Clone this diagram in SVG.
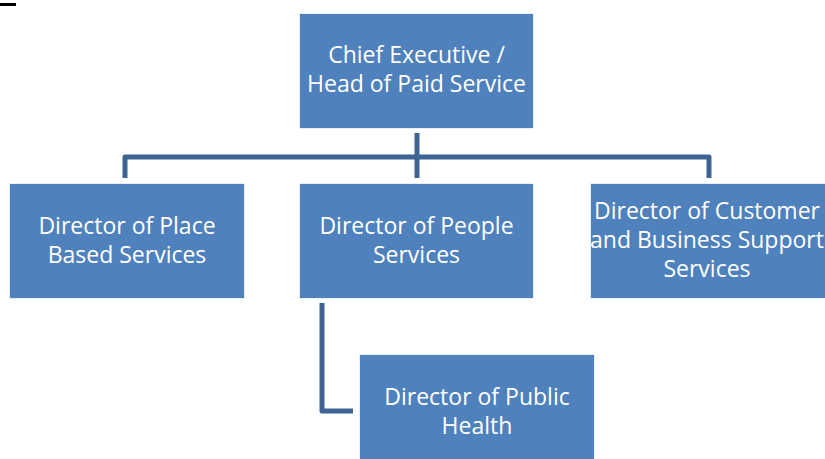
<svg xmlns="http://www.w3.org/2000/svg" width="825" height="459" viewBox="0 0 825 459">
<style>
.box{fill:#4F81BD;stroke:#E8EEF6;stroke-width:1}
.t{fill:#FFFFFF;font-family:"Open Sans","Liberation Sans",sans-serif;font-size:23px;text-anchor:middle}
.c{fill:none;stroke:#3E6494;stroke-width:5;stroke-linejoin:round}
</style>
<rect x="0" y="3" width="16" height="3" fill="#000"/>
<g id="connectors">
<path class="c" d="M417,133 V178"/>
<path class="c" d="M125,178 V157 H709 V178"/>
<path class="c" d="M322,303 V411 H353"/>
</g>
<g id="chief">
<rect class="box" x="299.5" y="13.5" width="234" height="115"/>
<text class="t" x="416.5" y="63">Chief Executive /</text>
<text class="t" x="416.5" y="92">Head of Paid Service</text>
</g>
<g id="place">
<rect class="box" x="9.5" y="183.5" width="235" height="115"/>
<text class="t" x="127" y="234">Director of Place</text>
<text class="t" x="127" y="263">Based Services</text>
</g>
<g id="people">
<rect class="box" x="299.5" y="183.5" width="234" height="115"/>
<text class="t" x="416.5" y="234">Director of People</text>
<text class="t" x="416.5" y="263">Services</text>
</g>
<g id="customer">
<rect class="box" x="590.5" y="183.5" width="240" height="115"/>
<text class="t" x="707" y="219">Director of Customer</text>
<text class="t" x="707" y="248">and Business Support</text>
<text class="t" x="707" y="277">Services</text>
</g>
<g id="health">
<rect class="box" x="359.5" y="354.5" width="235" height="110"/>
<text class="t" x="477" y="405">Director of Public</text>
<text class="t" x="477" y="434">Health</text>
</g>
</svg>
